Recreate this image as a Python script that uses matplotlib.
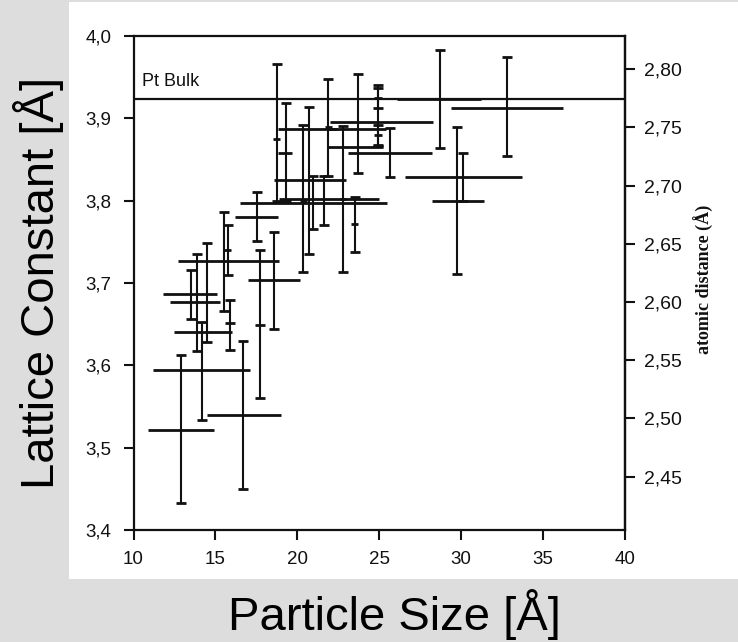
import numpy as np
import matplotlib
matplotlib.use("Agg")
import matplotlib.pyplot as plt
from matplotlib.patches import Rectangle
from matplotlib.ticker import FuncFormatter

# particle size [A] and lattice constant [A], error bars as (minus, plus)
size = [12.9, 16.7, 14.2, 13.9, 13.5, 14.46, 15.55, 18.6, 17.56, 17.73,
        15.9, 15.75, 20.93, 21.65, 20.73, 20.37, 18.74, 19.31, 21.89, 22.8,
        23.72, 23.5, 24.94, 24.94, 24.94, 25.65, 28.7, 32.77, 29.76, 30.1,
        22.1]
lattice = [3.522, 3.540, 3.594, 3.640, 3.687, 3.677, 3.727, 3.704, 3.780, 3.649,
           3.651, 3.740, 3.797, 3.802, 3.825, 3.800, 3.875, 3.858, 3.889, 3.802,
           3.865, 3.772, 3.895, 3.925, 3.880, 3.858, 3.924, 3.913, 3.799, 3.829,
           3.887]
size_lo = [2.04, 2.24, 3.0, 1.4, 1.7, 2.26, 2.85, 1.6, 1.36, 0.3,
           0.3, 0.2, 4.43, 2.75, 2.13, 0.2, 0.2, 0.51, 0.2, 0.2,
           1.85, 0.2, 2.94, 0.25, 0.25, 2.55, 2.6, 3.37, 1.56, 3.5,
           3.3]
size_hi = [1.99, 2.3, 2.9, 2.1, 1.6, 0.84, 3.35, 1.55, 1.24, 0.3,
           0.3, 0.2, 4.57, 3.35, 2.27, 0.2, 0.2, 0.39, 0.2, 0.2,
           1.48, 0.2, 3.36, 0.25, 0.25, 2.55, 2.5, 3.43, 1.64, 3.6,
           3.3]
lat_lo = [0.089, 0.090, 0.060, 0.023, 0.031, 0.049, 0.061, 0.060, 0.029, 0.089,
          0.032, 0.030, 0.031, 0.031, 0.090, 0.087, 0.075, 0.058, 0.059, 0.089,
          0.032, 0.034, 0.029, 0.012, 0.012, 0.029, 0.060, 0.059, 0.088, 0.029,
          0.0]
lat_hi = [0.090, 0.089, 0.059, 0.095, 0.029, 0.071, 0.059, 0.058, 0.031, 0.091,
          0.028, 0.031, 0.033, 0.028, 0.089, 0.092, 0.091, 0.061, 0.059, 0.089,
          0.089, 0.033, 0.046, 0.012, 0.012, 0.030, 0.059, 0.061, 0.090, 0.029,
          0.0]

PT_BULK = 3.923
dist_ticks = [2.45, 2.50, 2.55, 2.60, 2.65, 2.70, 2.75, 2.80]

W, H = 738, 642
fig = plt.figure(figsize=(W/100, H/100), dpi=100)
fig.patch.set_facecolor('#dddddd')
# white area of the scanned figure
fig.patches.append(Rectangle((69/W, 1-579/H), (W-69)/W, (579-2)/H,
                             transform=fig.transFigure, facecolor='white',
                             edgecolor='none', zorder=-10))

ax = fig.add_axes([133.5/W, 1-530/H, (625-133.5)/W, (530-36)/H])
ax.set_facecolor('white')
ink = '#111111'

ax.errorbar(size, lattice, xerr=[size_lo, size_hi], fmt='none',
            ecolor=ink, elinewidth=2.0, capsize=0)
ax.errorbar(size, lattice, yerr=[lat_lo, lat_hi], fmt='none',
            ecolor=ink, elinewidth=1.5, capsize=3.5, capthick=2.0)

ax.axhline(PT_BULK, color=ink, lw=1.6)
ax.text(10.5, 3.945, 'Pt Bulk', fontsize=13, family='Liberation Sans',
        color=ink, va='center')

ax.set_xlim(10, 40)
ax.set_ylim(3.4, 4.0)
ax.set_xticks(range(10, 41, 5))
ax.set_yticks(np.arange(3.4, 4.01, 0.1))
ax.xaxis.set_major_formatter(FuncFormatter(lambda v, p: '%d' % round(v)))
ax.yaxis.set_major_formatter(FuncFormatter(lambda v, p: ('%.1f' % v).replace('.', ',')))
for s in ax.spines.values():
    s.set_linewidth(1.6)
    s.set_color(ink)
ax.tick_params(direction='out', length=7, width=1.5, color=ink,
               labelsize=13.5, labelcolor=ink)
ax.tick_params(axis='y', pad=9)
ax.tick_params(axis='x', pad=8)
for lab in ax.get_xticklabels() + ax.get_yticklabels():
    lab.set_family('Liberation Sans')

ax2 = ax.secondary_yaxis('right', functions=(lambda a: a/np.sqrt(2),
                                             lambda d: d*np.sqrt(2)))
ax2.set_yticks(dist_ticks)
ax2.yaxis.set_major_formatter(FuncFormatter(lambda v, p: ('%.2f' % v).replace('.', ',')))
ax2.spines['right'].set_linewidth(1.6)
ax2.spines['right'].set_color(ink)
ax2.tick_params(direction='out', length=7, width=1.5, color=ink,
                labelsize=14, labelcolor=ink, pad=7)
for lab in ax2.get_yticklabels():
    lab.set_family('Liberation Sans')

fig.text(704/W, 1-279/H, 'atomic distance (Å)', rotation=90, ha='center',
         va='center', fontsize=13, family='Liberation Serif',
         fontweight='bold', color=ink)

fig.text(39/W, 1-283/H, 'Lattice Constant [Å]', rotation=90, ha='center',
         va='center', fontsize=34, family='Liberation Sans', color='black')
fig.text(394/W, 1-614/H, 'Particle Size [Å]', ha='center', va='center',
         fontsize=34, family='Liberation Sans', color='black')

fig.savefig('out.png', dpi=100, facecolor=fig.get_facecolor())
